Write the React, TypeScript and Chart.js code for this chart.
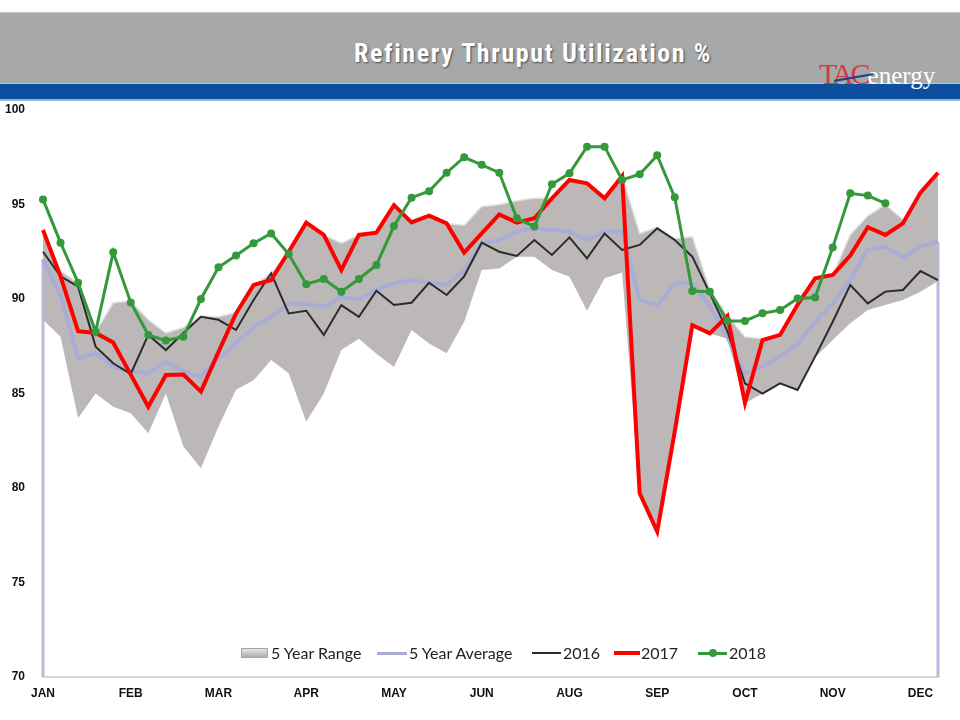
import React, { useEffect, useRef } from "react";
import { Chart, registerables } from "chart.js";

Chart.register(...registerables);

const monthTicks = ["JAN", "FEB", "MAR", "APR", "MAY", "JUN", "AUG", "SEP", "OCT", "NOV", "DEC"];
const weeksPerTick = 5;
const weekCount = 52;
const weekLabels = Array.from({ length: weekCount }, (_, i) =>
  i % weeksPerTick === 0 && monthTicks[i / weeksPerTick] ? monthTicks[i / weeksPerTick] : ""
);

const rangeHigh = [
  93.65, 91.5, 90.83, 88.27, 89.8, 89.9, 88.9, 88.2, 88.5, 89.1,
  89.06, 89.3, 90.74, 91.36, 92.5, 94.04, 93.39, 92.95, 93.39, 93.51,
  94.97, 94.05, 94.41, 94.0, 93.9, 94.9, 95.0, 95.2, 95.35, 95.33,
  96.3, 96.12, 95.33, 96.5, 93.47, 93.8, 93.2, 93.3, 90.5, 89.1,
  88.0, 87.9, 88.1, 89.7, 91.1, 91.27, 93.4, 94.4, 95.0, 94.2,
  95.63, 96.68,
];
const rangeLow = [
  88.9, 88.0, 83.7, 85.0, 84.3, 83.95, 82.9, 85.0, 82.2, 81.04,
  83.25, 85.2, 85.7, 86.77, 86.07, 83.5, 85.0, 87.3, 87.9, 87.1,
  86.4, 88.36, 87.65, 87.13, 88.8, 91.53, 91.62, 92.24, 92.24, 91.53,
  91.18, 89.38, 91.1, 91.4, 79.72, 77.69, 83.0, 88.62, 88.18, 87.9,
  84.48, 85.0, 85.54, 85.19, 86.9, 87.83, 88.72, 89.42, 89.68, 89.95,
  90.39, 90.95,
];
const fiveYearAvg = [
  92.1, 90.2, 86.86, 87.13, 86.42, 86.2, 86.07, 86.68, 86.15, 85.89,
  86.86, 87.65, 88.53, 89.06, 89.77, 89.74, 89.6, 90.1, 89.98, 90.48,
  90.83, 91.0, 90.86, 90.74, 91.53, 92.95, 93.12, 93.56, 93.74, 93.65,
  93.56, 93.12, 93.56, 93.56, 89.95, 89.68, 90.83, 90.83, 89.6, 88.0,
  86.07, 86.42, 86.95, 87.65, 88.8, 89.77, 91.0, 92.6, 92.77, 92.2,
  92.77, 93.03,
];
const y2016 = [
  92.5, 91.2, 90.65, 87.48, 86.6, 86.03, 88.1, 87.3, 88.2, 89.06,
  88.9, 88.36, 89.95, 91.36, 89.24, 89.38, 88.1, 89.68, 89.06, 90.44,
  89.68, 89.8, 90.86, 90.21, 91.2, 92.98, 92.5, 92.28, 93.12, 92.33,
  93.26, 92.15, 93.47, 92.6, 92.86, 93.74, 93.12, 92.24, 90.3, 88.3,
  85.54, 85.0, 85.54, 85.19, 86.95, 88.8, 90.74, 89.77, 90.39, 90.48,
  91.48, 91.0,
];
const y2017 = [
  93.65, 91.2, 88.3, 88.2, 87.7, 86.0, 84.3, 85.98, 86.0, 85.1,
  87.2, 89.24, 90.74, 91.0, 92.5, 94.04, 93.39, 91.53, 93.39, 93.51,
  94.97, 94.05, 94.41, 94.0, 92.45, 93.47, 94.48, 94.04, 94.27, 95.33,
  96.3, 96.12, 95.33, 96.5, 79.72, 77.69, 83.0, 88.62, 88.18, 89.1,
  84.5, 87.83, 88.1, 89.7, 91.1, 91.27, 92.3, 93.8, 93.39, 94.0,
  95.63, 96.68,
];
const y2018 = [
  95.27, 92.98, 90.86, 88.27, 92.47, 89.82, 88.1, 87.8, 88.0, 90.0,
  91.68, 92.3, 92.95, 93.47, 92.38, 90.78, 91.06, 90.39, 91.06, 91.8,
  93.86, 95.36, 95.7, 96.68, 97.5, 97.1, 96.68, 94.27, 93.83, 96.07,
  96.65, 98.06, 98.06, 96.3, 96.6, 97.6, 95.38, 90.42, 90.39, 88.84,
  88.84, 89.24, 89.42, 90.03, 90.08, 92.72, 95.59, 95.47, 95.06,
];

const yMin = 70;
const yMax = 100;
const yStep = 5;

const RED = "#ff0000";
const GREEN = "#33993a";
const BLACK = "#2b2b2b";
const AVG = "#a8acd6";
const RANGE = "#bcb8b8";

const edgeLines = {
  id: "edgeLines",
  beforeDatasetsDraw(chart: any) {
    const { ctx, scales } = chart;
    const x = scales.x;
    const y = scales.y;
    ctx.save();
    ctx.strokeStyle = "#b8bbdd";
    ctx.lineWidth = 3;
    [0, weekCount - 1].forEach((i) => {
      const px = x.getPixelForValue(i);
      ctx.beginPath();
      ctx.moveTo(px, y.getPixelForValue(fiveYearAvg[i]));
      ctx.lineTo(px, y.bottom);
      ctx.stroke();
    });
    ctx.restore();
  },
};

function RefineryChart() {
  const ref = useRef<HTMLCanvasElement | null>(null);
  useEffect(() => {
    if (!ref.current) return;
    const chart = new Chart(ref.current, {
      type: "line",
      data: {
        labels: weekLabels,
        datasets: [
          {
            label: "2018",
            data: y2018,
            borderColor: GREEN,
            backgroundColor: GREEN,
            borderWidth: 3,
            pointRadius: 4,
            pointBackgroundColor: GREEN,
            pointBorderWidth: 0,
            tension: 0,
            fill: false,
          },
          {
            label: "2017",
            data: y2017,
            borderColor: RED,
            borderWidth: 4,
            pointRadius: 0,
            tension: 0,
            fill: false,
          },
          {
            label: "2016",
            data: y2016,
            borderColor: BLACK,
            borderWidth: 2,
            pointRadius: 0,
            tension: 0,
            fill: false,
          },
          {
            label: "5 Year Average",
            data: fiveYearAvg,
            borderColor: AVG,
            borderWidth: 4,
            pointRadius: 0,
            tension: 0,
            fill: false,
          },
          {
            label: "5 Year Range",
            data: rangeHigh,
            borderColor: "#e4e2e2",
            borderWidth: 1.5,
            pointRadius: 0,
            tension: 0,
            backgroundColor: RANGE,
            fill: "+1",
          },
          {
            label: "range low",
            data: rangeLow,
            borderColor: RANGE,
            borderWidth: 0,
            pointRadius: 0,
            tension: 0,
            fill: false,
          },
        ],
      },
      options: {
        responsive: false,
        animation: false,
        layout: { padding: { top: 10, right: 22, bottom: 0, left: 0 } },
        plugins: {
          legend: { display: false },
          tooltip: { enabled: false },
          title: { display: false },
        },
        scales: {
          x: {
            grid: { display: false, drawTicks: false },
            border: { display: true, color: "#d6d6d6", width: 2 },
            ticks: {
              autoSkip: false,
              maxRotation: 0,
              padding: 9,
              color: "#111",
              font: { family: "Liberation Sans, Arial, sans-serif", size: 12, weight: "bold" },
            },
            afterFit(scale: any) {
              scale.height = 43;
              scale.paddingLeft = 0;
              scale.paddingRight = 0;
            },
          },
          y: {
            min: yMin,
            max: yMax,
            grid: { display: false, drawTicks: false },
            border: { display: false },
            ticks: {
              stepSize: yStep,
              padding: 18,
              color: "#111",
              font: { family: "Liberation Sans, Arial, sans-serif", size: 12, weight: "bold" },
            },
            afterFit(scale: any) {
              scale.width = 43;
              scale.paddingTop = 0;
              scale.paddingBottom = 0;
            },
          },
        },
      },
      plugins: [edgeLines],
    } as any);
    return () => chart.destroy();
  }, []);
  return <canvas ref={ref} width={960} height={620} style={{ display: "block" }} />;
}

const legendFont: React.CSSProperties = {
  position: "absolute",
  fontFamily: "Lato, 'Open Sans', sans-serif",
  fontSize: 16,
  color: "#222",
  lineHeight: "20px",
  top: 643,
  whiteSpace: "nowrap",
};

function Legend() {
  const line = (left: number, width: number, color: string, h: number, dot?: boolean) => (
    <div style={{ position: "absolute", left, top: 653 - h / 2, width, height: h, background: color }}>
      {dot ? (
        <div
          style={{
            position: "absolute",
            left: width / 2 - 4,
            top: h / 2 - 4,
            width: 8,
            height: 8,
            borderRadius: 4,
            background: color,
          }}
        />
      ) : null}
    </div>
  );
  return (
    <>
      <div
        style={{
          position: "absolute",
          left: 241,
          top: 648,
          width: 27,
          height: 10,
          background: "linear-gradient(#e6e4e4, #b0acac)",
          border: "1px solid #a8a5a5",
          boxSizing: "border-box",
        }}
      />
      <div style={{ ...legendFont, left: 271 }}>5 Year Range</div>
      {line(377, 30, AVG, 3)}
      <div style={{ ...legendFont, left: 409 }}>5 Year Average</div>
      {line(532, 29, BLACK, 2)}
      <div style={{ ...legendFont, left: 563 }}>2016</div>
      {line(614, 26, RED, 4)}
      <div style={{ ...legendFont, left: 641 }}>2017</div>
      {line(698, 29, GREEN, 3, true)}
      <div style={{ ...legendFont, left: 729 }}>2018</div>
    </>
  );
}

function Header() {
  return (
    <>
      <div style={{ position: "absolute", left: 0, top: 12, width: 960, height: 72, background: "#a7a8aa", borderTop: "1px solid #c9cacc", boxSizing: "border-box" }} />
      <div style={{ position: "absolute", left: 0, top: 83, width: 960, height: 1, background: "#c2c4c8" }} />
      <div style={{ position: "absolute", left: 0, top: 84, width: 960, height: 15, background: "#0b4f9e" }} />
      <div style={{ position: "absolute", left: 0, top: 99, width: 960, height: 2, background: "#9bb3d6" }} />
      <div
        style={{
          position: "absolute",
          left: 233,
          top: 38,
          width: 600,
          textAlign: "center",
          color: "#ffffff",
          fontFamily: "'Liberation Sans Narrow', 'Roboto Condensed', 'DejaVu Sans Condensed', sans-serif",
          fontWeight: "bold",
          fontSize: 26,
          lineHeight: "30px",
          letterSpacing: 1.6,
          textShadow: "1px 1px 2px #4a4a4a",
        }}
      >
        Refinery Thruput Utilization %
      </div>
      <div
        style={{
          position: "absolute",
          left: 819,
          top: 59,
          fontFamily: "'Liberation Serif', serif",
          lineHeight: "30px",
          whiteSpace: "nowrap",
        }}
      >
        <span style={{ color: "#d8383f", fontSize: 30, letterSpacing: -3 }}>TAC</span>
        <span style={{ color: "#ffffff", fontSize: 25 }}>energy</span>
      </div>
      <div
        style={{
          position: "absolute",
          left: 834,
          top: 80,
          width: 40,
          height: 2,
          background: "#1d3f8a",
          borderRadius: 1,
          transform: "rotate(-10deg)",
          transformOrigin: "left center",
        }}
      />
    </>
  );
}

export default function App() {
  return (
    <div style={{ position: "absolute", left: 0, top: 0, width: 960, height: 720, background: "#fff", overflow: "hidden" }}>
      <Header />
      <div style={{ position: "absolute", left: 0, top: 100, width: 960, height: 620 }}>
        <RefineryChart />
      </div>
      <Legend />
    </div>
  );
}
